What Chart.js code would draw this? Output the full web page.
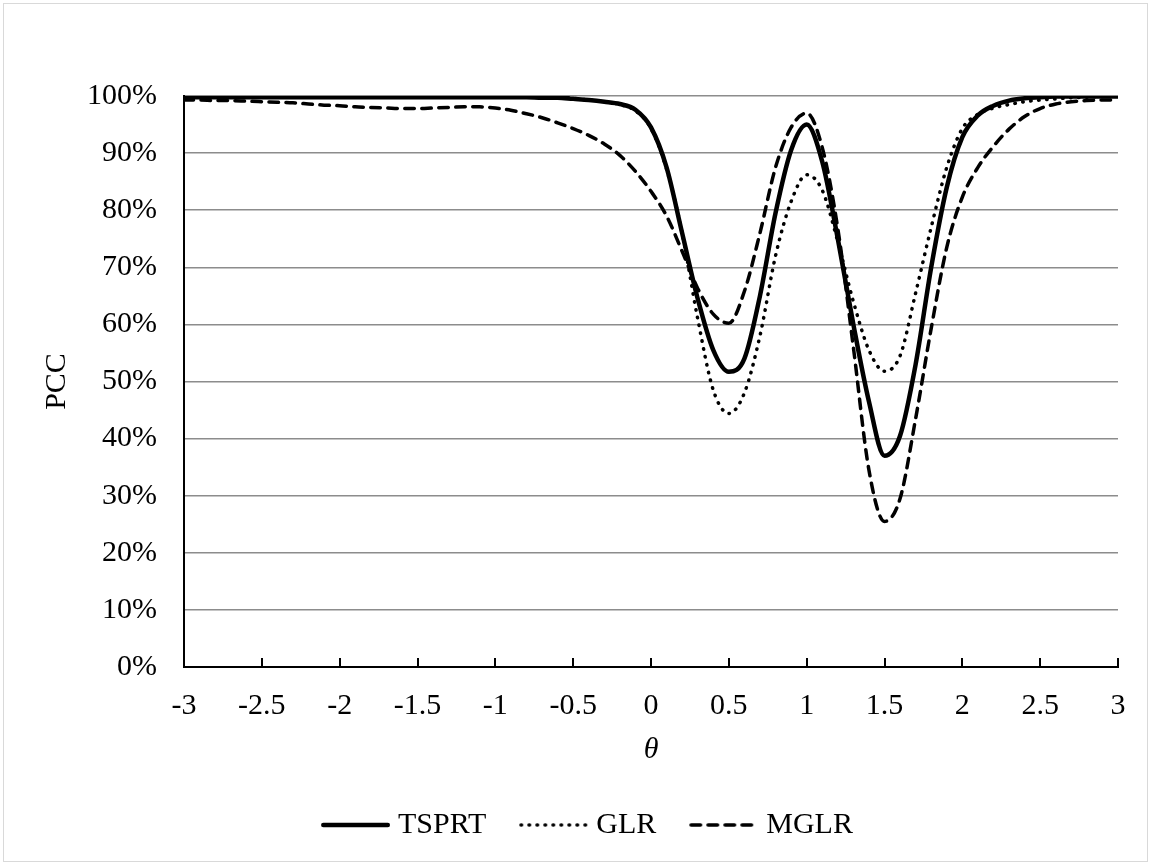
<!DOCTYPE html>
<html>
<head>
<meta charset="utf-8">
<script src="https://cdn.jsdelivr.net/npm/chart.js@4.4.1/dist/chart.umd.min.js"></script>
<style>
  html, body { margin: 0; padding: 0; background: #fff; }
  #wrap { position: relative; width: 1151px; height: 865px; }
</style>
</head>
<body>
<div id="wrap">
  <canvas id="pcc-chart" width="1151" height="865"></canvas>
</div>
<script>
// theta values (x categories)
const theta = [
  -3.0, -2.9, -2.8, -2.7, -2.6, -2.5, -2.4, -2.3, -2.2, -2.1,
  -2.0, -1.9, -1.8, -1.7, -1.6, -1.5, -1.4, -1.3, -1.2, -1.1,
  -1.0, -0.9, -0.8, -0.7, -0.6, -0.5, -0.4, -0.3, -0.2, -0.1,
  0.0, 0.1, 0.2, 0.3, 0.4, 0.5, 0.6, 0.7, 0.8, 0.9,
  1.0, 1.1, 1.2, 1.3, 1.4, 1.5, 1.6, 1.7, 1.8, 1.9,
  2.0, 2.1, 2.2, 2.3, 2.4, 2.5, 2.6, 2.7, 2.8, 2.9,
  3.0
];

// PCC in percent
const tsprt = [
  99.8, 99.8, 99.8, 99.8, 99.8, 99.8, 99.8, 99.8, 99.8, 99.8,
  99.8, 99.8, 99.8, 99.8, 99.8, 99.8, 99.8, 99.8, 99.8, 99.8,
  99.8, 99.8, 99.8, 99.7, 99.7, 99.5, 99.3, 99.0, 98.6, 97.6,
  94.5, 87.5, 76.0, 64.5, 55.5, 51.7, 54.0, 65.0, 79.5, 90.5,
  95.0, 88.5, 75.0, 60.0, 46.5, 37.0, 40.5, 53.0, 70.0, 84.0,
  92.8, 96.6, 98.3, 99.2, 99.6, 99.8, 99.9, 99.9, 99.9, 99.9,
  99.9
];

const glr = [
  99.9, 99.9, 99.9, 99.9, 99.9, 99.9, 99.9, 99.9, 99.9, 99.9,
  99.9, 99.9, 99.9, 99.9, 99.9, 99.9, 99.9, 99.9, 99.9, 99.9,
  99.9, 99.9, 99.9, 99.9, 99.9, 99.6, 99.3, 99.0, 98.5, 97.4,
  94.3, 87.2, 76.0, 61.0, 48.5, 44.4, 48.0, 58.0, 72.0, 81.5,
  86.2, 83.5, 74.5, 64.0, 55.5, 51.8, 54.5, 65.5, 77.0, 87.5,
  94.3, 96.8, 97.9, 98.5, 99.0, 99.3, 99.5, 99.7, 99.8, 99.9,
  99.9
];

const mglr = [
  99.3, 99.3, 99.2, 99.2, 99.1, 99.0, 98.9, 98.8, 98.6, 98.4,
  98.3, 98.1, 98.0, 97.9, 97.8, 97.8, 97.9, 98.0, 98.1, 98.1,
  97.9, 97.5, 96.9, 96.2, 95.3, 94.3, 93.1, 91.6, 89.6, 86.8,
  83.3, 79.0, 72.8, 66.3, 61.8, 60.2, 65.8, 76.0, 87.5, 94.5,
  97.0, 91.0, 76.8, 56.0, 34.5, 25.5, 29.5, 43.5, 59.3, 73.5,
  82.3, 87.5, 91.2, 94.2, 96.4, 97.8, 98.6, 99.0, 99.2, 99.3,
  99.3
];

const seriesNames = ['TSPRT', 'GLR', 'MGLR'];
const yTicks = [0, 10, 20, 30, 40, 50, 60, 70, 80, 90, 100];
const xTicks = [-3, -2.5, -2, -1.5, -1, -0.5, 0, 0.5, 1, 1.5, 2, 2.5, 3];

const FONT = "'Liberation Serif', 'DejaVu Serif', serif";
Chart.defaults.color = '#000';
Chart.defaults.font.family = FONT;

function toPoints(vals) {
  return theta.map((t, i) => ({x: t, y: vals[i]}));
}

// small canvas with a line sample, used as legend symbol (keeps dash pattern).
// the legend centres it on the box, so the line sits in the right part
function lineSample(ds) {
  const c = document.createElement('canvas');
  c.width = 96;
  c.height = 12;
  const g = c.getContext('2d');
  const half = ds.borderWidth / 2;
  g.strokeStyle = ds.borderColor;
  g.lineWidth = ds.borderWidth;
  g.lineCap = ds.borderCapStyle;
  g.setLineDash(ds.borderDash || []);
  g.beginPath();
  g.moveTo(27 + half, 6);
  g.lineTo(96 - half, 6);
  g.stroke();
  return c;
}

// light gray frame around the whole chart
const framePlugin = {
  id: 'frame',
  beforeDraw(chart) {
    const ctx = chart.ctx;
    ctx.save();
    ctx.fillStyle = '#fff';
    ctx.fillRect(0, 0, chart.width, chart.height);
    ctx.strokeStyle = '#d9d9d9';
    ctx.lineWidth = 1;
    ctx.strokeRect(3.5, 3.5, 1144, 858);
    ctx.restore();
  }
};

const data = {
  datasets: [
    {
      label: seriesNames[0],
      data: toPoints(tsprt),
      borderColor: '#000',
      backgroundColor: '#000',
      borderWidth: 4.5,
      borderCapStyle: 'round',
      pointRadius: 0,
      cubicInterpolationMode: 'monotone',
      fill: false
    },
    {
      label: seriesNames[1],
      data: toPoints(glr),
      borderColor: '#000',
      backgroundColor: '#000',
      borderWidth: 3.5,
      borderDash: [0.5, 7.5],
      borderCapStyle: 'round',
      pointRadius: 0,
      cubicInterpolationMode: 'monotone',
      fill: false
    },
    {
      label: seriesNames[2],
      data: toPoints(mglr),
      borderColor: '#000',
      backgroundColor: '#000',
      borderWidth: 3.5,
      borderDash: [9.5, 7.5],
      borderCapStyle: 'round',
      pointRadius: 0,
      cubicInterpolationMode: 'monotone',
      fill: false
    }
  ]
};

const samples = data.datasets.map(lineSample);

const config = {
  type: 'line',
  data: data,
  plugins: [framePlugin],
  options: {
    responsive: false,
    animation: false,
    layout: {
      padding: {left: 36, right: 33, top: 96, bottom: 15}
    },
    plugins: {
      legend: {
        position: 'bottom',
        labels: {
          usePointStyle: true,
          pointStyleWidth: 82,
          padding: 13,
          color: '#000',
          font: {size: 30, family: FONT},
          generateLabels: (chart) =>
            Chart.defaults.plugins.legend.labels.generateLabels(chart)
              .map((item, i) => Object.assign(item, {pointStyle: samples[i]}))
        }
      },
      tooltip: {enabled: false}
    },
    scales: {
      x: {
        type: 'linear',
        min: -3,
        max: 3,
        afterFit: (s) => {
          s.height = 130;
          s.paddingLeft = 0;
          s.paddingRight = 0;
        },
        afterBuildTicks: (s) => { s.ticks = xTicks.map(v => ({value: v})); },
        ticks: {
          padding: 30,
          font: {size: 30, family: FONT},
          color: '#000',
          callback: (v) => String(v)
        },
        grid: {
          drawOnChartArea: false,
          drawTicks: true,
          tickLength: -9,
          color: '#000',
          lineWidth: 2
        },
        border: {display: true, color: '#000', width: 2},
        title: {
          display: true,
          text: 'θ',
          font: {size: 30, family: FONT, style: 'italic'},
          color: '#000',
          padding: {top: 0, bottom: 29}
        }
      },
      y: {
        min: 0,
        max: 100,
        afterFit: (s) => { s.width = 148; },
        afterBuildTicks: (s) => { s.ticks = yTicks.map(v => ({value: v})); },
        ticks: {
          padding: 27,
          font: {size: 30, family: FONT},
          color: '#000',
          callback: (v) => v + '%'
        },
        grid: {
          drawTicks: false,
          color: '#8c8c8c',
          lineWidth: 1.5
        },
        border: {display: true, color: '#000', width: 2},
        title: {
          display: true,
          text: 'PCC',
          font: {size: 30, family: FONT},
          color: '#000',
          padding: {top: 3, bottom: 3}
        }
      }
    }
  }
};

const ctx = document.getElementById('pcc-chart').getContext('2d');
window.pccChart = new Chart(ctx, config);
</script>
</body>
</html>
